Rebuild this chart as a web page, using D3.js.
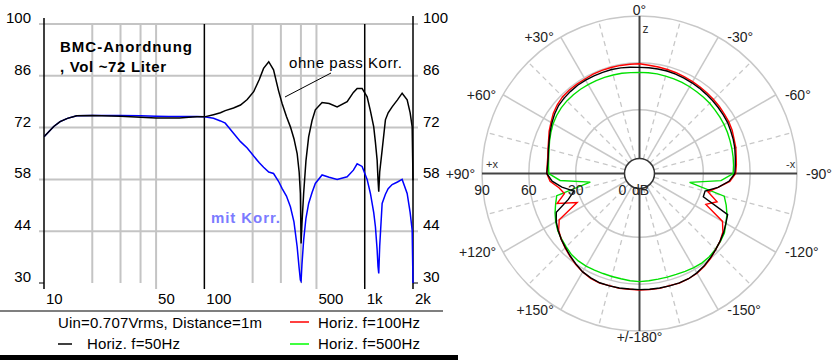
<!DOCTYPE html>
<html><head><meta charset="utf-8">
<script src="https://cdn.jsdelivr.net/npm/d3@7"></script>
<style>body{margin:0;background:#fff}svg{display:block;font-family:"Liberation Sans",Arial,sans-serif}</style>
</head><body><svg id="c" width="840" height="360"></svg>
<script>
// ---------- Frequency response data ----------
const freqs = [10,11.5,12.6,14,16,20,30,40,50,60,70,80,90,100,114,126,135,152,168,185,203,220,234,252,270,290,305,325,344,362,379,390,397,401,406,416,430,447,470,492,542,600,673,777,850,897,963,1035,1085,1138,1166,1195,1210,1223,1240,1284,1346,1400,1482,1600,1711,1839,1920,1976,2000];
const ohneKorr = [69.5,72.3,73.6,74.5,75.2,75.3,75.1,74.8,74.6,74.6,74.6,74.8,74.9,74.9,75.5,76.0,76.6,77.3,78.1,79.6,81.7,85.0,88.0,89.8,87.6,82.0,78.6,75.0,72.2,69.0,65.0,60.0,54.2,40.7,46.0,54.2,63.0,69.5,74.0,76.8,78.8,78.5,77.6,79.0,81.5,82.6,82.6,80.3,76.5,72.2,68.0,63.2,58.0,54.7,60.0,65.9,74.1,76.0,77.6,79.5,81.3,79.5,76.0,72.2,57.8];
const mitKorr = [69.5,72.3,73.6,74.5,75.2,75.3,75.3,75.2,75.1,75.0,75.0,75.0,75.0,74.9,74.5,73.8,73.2,70.5,68.2,66.5,64.3,62.5,61.3,60.0,59.6,57.5,55.6,53.5,50.6,46.5,39.8,34.0,30.8,30.5,35.0,41.6,47.5,51.5,54.5,56.9,59.2,58.6,58.0,58.7,60.5,62.2,61.5,58.0,54.2,49.0,45.2,39.0,34.5,32.6,40.0,51.5,54.0,55.5,56.6,57.3,58.0,54.2,49.0,44.3,30.0];
const yTicks = [30,44,58,72,86,100];
const xTickValues = [10,50,100,500,1000,2000];
const xTickLabels = ["10","50","100","500","1k","2k"];
const xGridMinor = [20,30,40,50,200,300,400,500];
const xGridMajor = [10,100,1000,2000];

// ---------- Polar data (angle in degrees, + = left) ----------
const angles = d3.range(-180, 181, 5);
const horiz50 = [63.5,63.5,63.6,63.6,63.7,63.5,62.6,61.3,59.7,58.1,56.5,54.9,53.0,51.4,32.6,32.6,40.2,46.6,50.2,50.7,51.4,52.3,53.0,53.6,54.3,54.6,54.9,55.2,55.5,55.9,56.2,56.5,56.8,57.1,57.1,57.1,
  57.1,
  57.4,57.8,58.1,58.1,58.1,58.1,58.1,57.8,57.4,56.8,55.5,53.9,52.3,50.7,49.5,48.5,48.2,48.5,45.3,39.6,32.6,37.6,47.9,50.7,52.7,54.6,56.2,58.1,60.0,61.9,62.9,63.6,63.6,63.6,63.4,63.5];
const horiz100 = [63.8,63.7,63.8,63.5,63.8,63.5,62.9,61.6,60.0,58.1,56.5,54.3,50.5,36.0,42.0,34.5,40.2,47.2,50.7,51.4,52.0,53.0,53.6,54.6,55.2,55.5,55.9,56.2,56.5,56.8,57.1,57.4,57.8,58.1,58.4,58.7,
  59.4,
  59.4,59.4,59.4,59.4,59.4,59.0,59.0,59.0,58.7,57.8,56.5,54.6,53.0,51.1,49.8,48.8,48.5,48.5,46.6,41.5,38.9,45.3,33.2,48.5,52.3,54.6,56.5,58.4,60.3,61.9,63.2,63.8,63.5,63.8,63.5,63.8];
const horiz500 = [58.4,58.1,57.8,57.8,57.9,58.3,58.7,59.0,58.7,57.8,56.8,55.5,53.0,50.9,48.2,45.3,21.7,41.5,49.1,49.6,50.0,50.4,50.8,51.3,51.7,52.0,52.3,52.7,52.9,53.0,53.3,53.5,53.6,53.7,53.9,53.9,
  53.9,
  54.0,54.3,54.4,54.6,54.8,54.9,55.0,55.0,54.9,54.6,53.9,53.0,51.7,50.4,49.1,48.2,47.6,47.2,40.2,21.1,44.0,46.3,48.8,51.1,53.0,54.3,55.5,56.9,57.5,57.6,57.4,57.3,57.4,57.6,58.1,58.4];
const radialTicks = [0, 30, 60, 90];
const angleLabelAngles = [0,30,60,90,120,150,180,-30,-60,-90,-120,-150];
const angleLabelTexts = ["0°","+30°","+60°","+90°","+120°","+150°","+/-180°","-30°","-60°","-90°","-120°","-150°"];

const svg = d3.select("#c");

// ===== Left chart =====
const x = d3.scaleLog().domain([10, 2000]).range([44, 413]);
const y = d3.scaleLinear().domain([30, 100]).range([283, 24]);
const L = svg.append("g");
const gray = "#c4c4c4";

yTicks.forEach(t => {
  if (t > 30) {
    L.append("line").attr("x1", 39).attr("x2", 418).attr("y1", y(t)).attr("y2", y(t))
      .attr("stroke", gray).attr("stroke-width", 2);
  } else {
    L.append("line").attr("x1", 39).attr("x2", 44).attr("y1", y(t)).attr("y2", y(t)).attr("stroke", "#000").attr("stroke-width", 1);
    L.append("line").attr("x1", 413).attr("x2", 418).attr("y1", y(t)).attr("y2", y(t)).attr("stroke", "#000").attr("stroke-width", 1);
  }
});
xGridMinor.forEach(f => {
  L.append("line").attr("x1", x(f)).attr("x2", x(f)).attr("y1", y(100)).attr("y2", y(30))
    .attr("stroke", gray).attr("stroke-width", 2);
});
xTickValues.forEach(f => {
  L.append("line").attr("x1", x(f)).attr("x2", x(f)).attr("y1", y(30)).attr("y2", y(30) + 6)
    .attr("stroke", xGridMajor.includes(f) ? "#000" : gray).attr("stroke-width", xGridMajor.includes(f) ? 1.5 : 2);
});
xGridMajor.forEach(f => {
  const top = f === 10 ? 18 : (f === 2000 ? 16 : y(100));
  L.append("line").attr("x1", x(f)).attr("x2", x(f)).attr("y1", top).attr("y2", y(30))
    .attr("stroke", "#000").attr("stroke-width", 1.5);
});
yTicks.forEach(t => {
  L.append("text").attr("x", 31).attr("y", y(t) - 1).attr("text-anchor", "end")
    .attr("font-size", 15).attr("fill", "#000").text(t);
  L.append("text").attr("x", 423).attr("y", y(t) - 1).attr("text-anchor", "start")
    .attr("font-size", 15).attr("fill", "#000").text(t);
});
xTickValues.forEach((f, i) => {
  L.append("text").attr("x", x(f) + 2).attr("y", 304).attr("font-size", 15).text(xTickLabels[i]);
});

L.append("clipPath").attr("id", "plotclip").append("rect")
  .attr("x", 44).attr("y", 20).attr("width", 370).attr("height", 264);
const line = d3.line().x(d => x(d[0])).y(d => y(d[1]));
const pc = L.append("g").attr("clip-path", "url(#plotclip)");
pc.append("path").datum(freqs.map((f, i) => [f, mitKorr[i]])).attr("d", line)
  .attr("fill", "none").attr("stroke", "#0000ff").attr("stroke-width", 1.5);
pc.append("path").datum(freqs.map((f, i) => [f, ohneKorr[i]])).attr("d", line)
  .attr("fill", "none").attr("stroke", "#000").attr("stroke-width", 1.5);

L.append("text").attr("x", 60).attr("y", 52).attr("font-size", 15).attr("font-weight", "bold")
  .attr("textLength", 132).text("BMC-Anordnung");
L.append("text").attr("x", 60).attr("y", 72).attr("font-size", 15).attr("font-weight", "bold")
  .attr("textLength", 106).text(", Vol ~72 Liter");
L.append("text").attr("x", 289).attr("y", 68).attr("font-size", 15).attr("textLength", 113).text("ohne pass Korr.");
L.append("line").attr("x1", 285).attr("y1", 97).attr("x2", 331).attr("y2", 73).attr("stroke", "#000").attr("stroke-width", 1);
L.append("text").attr("x", 211).attr("y", 223).attr("font-size", 15).attr("font-weight", "bold")
  .attr("fill", "#7b7bff").attr("textLength", 69).text("mit Korr.");

// legend
L.append("line").attr("x1", 0).attr("x2", 443).attr("y1", 311).attr("y2", 311).attr("stroke", "#000").attr("stroke-width", 1.2);
L.append("text").attr("x", 58).attr("y", 328).attr("font-size", 15).attr("textLength", 204).text("Uin=0.707Vrms, Distance=1m");
L.append("line").attr("x1", 290).attr("x2", 309).attr("y1", 322).attr("y2", 322).attr("stroke", "#ff0000").attr("stroke-width", 1.5);
L.append("text").attr("x", 318).attr("y", 328).attr("font-size", 15).attr("textLength", 102).text("Horiz. f=100Hz");
L.append("line").attr("x1", 58).attr("x2", 72).attr("y1", 344).attr("y2", 344).attr("stroke", "#000").attr("stroke-width", 1.5);
L.append("text").attr("x", 87).attr("y", 349).attr("font-size", 15).attr("textLength", 93).text("Horiz. f=50Hz");
L.append("line").attr("x1", 290).attr("x2", 309).attr("y1", 344).attr("y2", 344).attr("stroke", "#00ff00").attr("stroke-width", 1.5);
L.append("text").attr("x", 318).attr("y", 349).attr("font-size", 15).attr("textLength", 102).text("Horiz. f=500Hz");
L.append("rect").attr("x", 0).attr("y", 355).attr("width", 458).attr("height", 5).attr("fill", "#000");

// ===== Polar chart =====
const cx = 639.5, cy = 173.5;
const r = d3.scaleLinear().domain([0, 90]).range([17, 157.5]);
const P = svg.append("g").attr("transform", `translate(${cx},${cy})`);
const rad = a => a * Math.PI / 180;
const R = r(90);

radialTicks.filter(v => v > 0).forEach(v => {
  P.append("circle").attr("r", r(v)).attr("fill", "none").attr("stroke", "#c8c8c8").attr("stroke-width", 1.5);
});
d3.range(-165, 181, 15).forEach(a => {
  if (a % 90 === 0) return;
  const dashed = a % 30 !== 0;
  P.append("line")
    .attr("x1", -15 * Math.sin(rad(a))).attr("y1", -15 * Math.cos(rad(a)))
    .attr("x2", -R * Math.sin(rad(a))).attr("y2", -R * Math.cos(rad(a)))
    .attr("stroke", "#c8c8c8").attr("stroke-width", dashed ? 1.3 : 1.5)
    .attr("stroke-dasharray", dashed ? "5,4" : null);
});
[0, 90, 180, -90].forEach(a => {
  P.append("line")
    .attr("x1", -15 * Math.sin(rad(a))).attr("y1", -15 * Math.cos(rad(a)))
    .attr("x2", -R * Math.sin(rad(a))).attr("y2", -R * Math.cos(rad(a)))
    .attr("stroke", "#444").attr("stroke-width", 2);
});
P.append("circle").attr("r", 15).attr("fill", "#fff").attr("stroke", "#333").attr("stroke-width", 1.5);

const radial = d3.lineRadial().angle(d => -rad(d[0])).radius(d => r(d[1]));
[[horiz500, "#00e000"], [horiz100, "#ff0000"], [horiz50, "#000"]].forEach(([vals, col]) => {
  P.append("path").datum(angles.map((a, i) => [a, vals[i]])).attr("d", radial)
    .attr("fill", "none").attr("stroke", col).attr("stroke-width", 1.4);
});

radialTicks.forEach(v => {
  P.append("text").attr("x", -r(v)).attr("y", 21.5).attr("text-anchor", "middle")
    .attr("font-size", 14).attr("fill", "#222").text(v);
});
P.append("text").attr("x", -7.5).attr("y", 21.5).attr("font-size", 14).attr("fill", "#222").text("dB");

angleLabelAngles.forEach((a, i) => {
  const t = angleLabelTexts[i];
  const px = -R * Math.sin(rad(a)), py = -R * Math.cos(rad(a));
  let tx, ty, anchor;
  if (a === 0) { tx = 0; ty = -158.5; anchor = "middle"; }
  else if (a === 180) { tx = 0; ty = 168.5; anchor = "middle"; }
  else if (a > 0) { tx = px - 7; ty = py + 5; anchor = "end"; }
  else { tx = px + 9; ty = py + 5; anchor = "start"; }
  P.append("text").attr("x", tx).attr("y", ty).attr("text-anchor", anchor)
    .attr("font-size", 14).attr("fill", "#222").text(t);
});
P.append("text").attr("x", -R + 4).attr("y", -6).attr("font-size", 11).attr("fill", "#333").text("+x");
P.append("text").attr("x", R - 11).attr("y", -6).attr("font-size", 11).attr("fill", "#333").text("-x");
P.append("text").attr("x", 3).attr("y", -141).attr("font-size", 12).attr("fill", "#333").text("z");
</script>
</body></html>
